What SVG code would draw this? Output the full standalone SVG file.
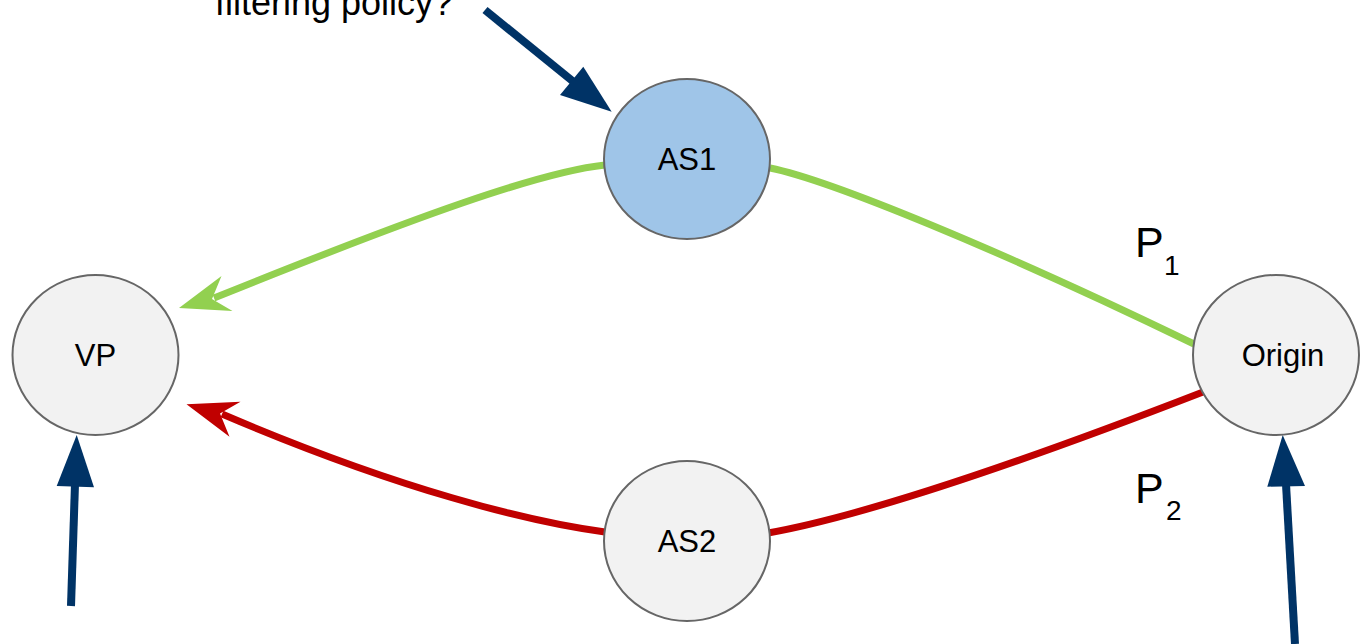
<svg xmlns="http://www.w3.org/2000/svg" width="1363" height="644" viewBox="0 0 1363 644">
  <style>
    .node { fill: #f2f2f2; stroke: #666666; stroke-width: 2; }
    .node.hl { fill: #9fc5e8; }
    .lbl { font-family: "Liberation Sans", Arial, sans-serif; font-size: 31px; fill: #000; text-anchor: middle; }
    .note { font-family: "Liberation Sans", Arial, sans-serif; fill: #000; }
    .path-ok { fill: none; stroke: #92d050; stroke-width: 7; }
    .path-bad { fill: none; stroke: #c00000; stroke-width: 7; }
    .ptr { fill: none; stroke: #003366; stroke-width: 8; }
    .ptr-head { fill: #003366; }
  </style>
  <rect width="1363" height="644" fill="#ffffff"/>

  <g id="connectors">
    <!-- P1: Origin -> AS1 -> VP -->
    <path class="path-ok" d="M1194,344 C1000,250 830,180 770,168"/>
    <path class="path-ok" d="M605,165 C540,172 420,215 214,298"/>
    <polygon fill="#92d050" points="179,308 221.5,276 212,299 232.5,311"/>
    <!-- P2: Origin -> AS2 -> VP -->
    <path class="path-bad" d="M1203,392 C950,490 830,522 768,533"/>
    <path class="path-bad" d="M605,532 C530,522 400,490 222,414"/>
    <polygon fill="#c00000" points="186.5,404.3 240.5,401.7 220,413.5 229.5,436.7"/>
    <!-- annotation pointers -->
    <line class="ptr" x1="485" y1="10" x2="575" y2="83"/>
    <polygon class="ptr-head" points="611.7,111.7 583.3,66.7 560,95"/>
    <line class="ptr" x1="71" y1="606" x2="75" y2="484"/>
    <polygon class="ptr-head" points="76.7,435 56.7,486 94,487.3"/>
    <line class="ptr" x1="1295" y1="644" x2="1286" y2="484"/>
    <polygon class="ptr-head" points="1282.7,435 1267.3,486.7 1305,486"/>
  </g>

  <g id="node-vp">
    <ellipse class="node" cx="95.5" cy="355" rx="83" ry="80"/>
    <text class="lbl" x="95.5" y="366">VP</text>
  </g>

  <g id="node-as1">
    <ellipse class="node hl" cx="687" cy="159" rx="83" ry="80"/>
    <text class="lbl" x="687" y="170">AS1</text>
  </g>

  <g id="node-as2">
    <ellipse class="node" cx="687" cy="541" rx="83" ry="80"/>
    <text class="lbl" x="687" y="552">AS2</text>
  </g>

  <g id="node-origin">
    <ellipse class="node" cx="1276" cy="355" rx="83" ry="80"/>
    <text class="lbl" x="1283" y="366">Origin</text>
  </g>

  <g id="labels">
    <text class="note" x="1135" y="257" font-size="43">P<tspan x="1164" y="275" font-size="28">1</tspan></text>
    <text class="note" x="1135" y="503" font-size="43">P<tspan x="1166" y="520" font-size="28">2</tspan></text>
    <text class="note" x="215" y="15" font-size="36">filtering policy?</text>
  </g>
</svg>
